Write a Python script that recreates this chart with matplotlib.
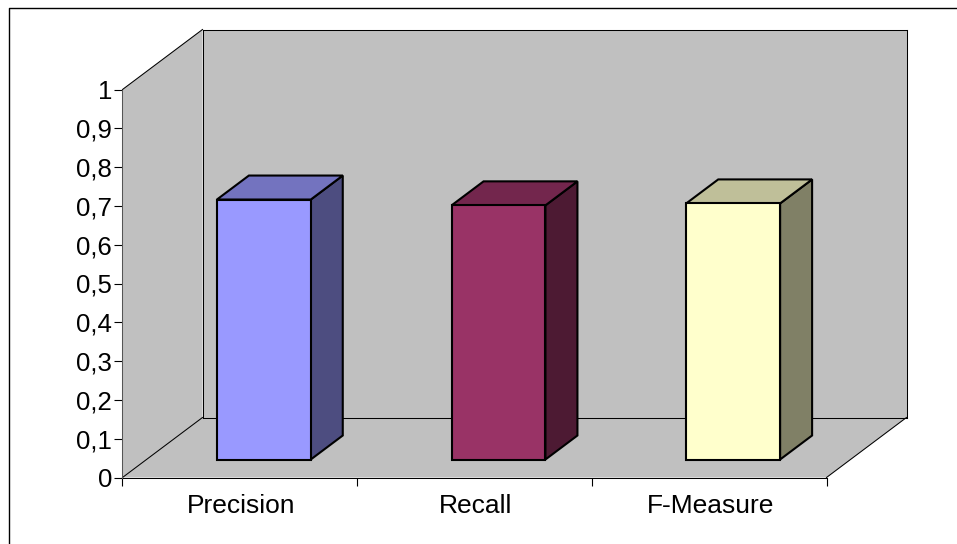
import matplotlib
matplotlib.use("Agg")
import matplotlib.pyplot as plt
from matplotlib.lines import Line2D
from matplotlib.patches import Polygon

categories = ["Precision", "Recall", "F-Measure"]
values = [0.67, 0.655, 0.66]
y_ticks = [0, 0.1, 0.2, 0.3, 0.4, 0.5, 0.6, 0.7, 0.8, 0.9, 1]
y_labels = ["0", "0,1", "0,2", "0,3", "0,4", "0,5", "0,6", "0,7", "0,8", "0,9", "1"]
front_colors = ["#9999FF", "#993366", "#FFFFCC"]
side_colors = ["#4D4D80", "#4D1A33", "#808066"]
top_colors = ["#7373BF", "#73264D", "#BFBF99"]

W, H = 957, 544
plt.rcParams["font.family"] = ["Liberation Sans", "DejaVu Sans"]
fig = plt.figure(figsize=(W / 100, H / 100), dpi=100, facecolor="white")

# outer chart frame: only the left and top edges are visible in the crop
fig.add_artist(Line2D([8.5 / W, 8.5 / W, 1], [0, 1 - 7.5 / H, 1 - 7.5 / H],
                      transform=fig.transFigure, color="black", linewidth=1.0))

L, R, T, B = 122.5, 826.5, 89.5, 477.5
ax = fig.add_axes([L / W, 1 - B / H, (R - L) / W, (B - T) / H])
ax.set_xlim(0, 3)
ax.set_ylim(0, 1)
ax.patch.set_visible(False)
for s in ax.spines.values():
    s.set_visible(False)

ux = (R - L) / 3      # pixels per x unit
uy = (B - T)          # pixels per y unit


def shift(x, y, dx_px, dy_px):
    """Move a data point back into the 3-D depth by a pixel offset."""
    return (x + dx_px / ux, y + dy_px / uy)


def poly(points, fc, ec="black", lw=0.75, z=1):
    ax.add_patch(Polygon(points, closed=True, facecolor=fc, edgecolor=ec, linewidth=lw,
                         joinstyle="miter", clip_on=False, zorder=z))


def edge(p, q, color="black", lw=0.75):
    ax.add_line(Line2D([p[0], q[0]], [p[1], q[1]], color=color, linewidth=lw,
                       clip_on=False, zorder=2))


DX, DY = 80, 60
gray = "#C0C0C0"
a, b = (0, 0), (3, 0)
c, d = shift(0, 0, DX, DY), shift(3, 0, DX, DY)
e, f_ = shift(0, 1, DX, DY), shift(3, 1, DX, DY)
g = (0, 1)
# walls and floor, fills first, each edge drawn once
poly([c, d, f_, e], gray, ec="none", lw=0)
poly([a, c, e, g], gray, ec="none", lw=0)
poly([a, b, d, c], gray, ec="none", lw=0)
edge(a, b)
edge(b, d)
edge(a, c)
edge(c, d)
edge(c, e)
edge(d, f_)
edge(e, f_)
edge(g, e)
edge(a, g, color="#555555")

# bars
width = 0.4
d0 = (24, 18)
d1 = (56, 42)
blw = 1.5
for i, (v, f, s, t) in enumerate(zip(values, front_colors, side_colors, top_colors)):
    x0, x1 = i + 0.5 - width / 2, i + 0.5 + width / 2
    poly([shift(x1, 0, *d0), shift(x1, 0, *d1), shift(x1, v, *d1), shift(x1, v, *d0)], s, lw=blw, z=3)
    poly([shift(x0, v, *d0), shift(x1, v, *d0), shift(x1, v, *d1), shift(x0, v, *d1)], t, lw=blw, z=3)
    poly([shift(x0, 0, *d0), shift(x1, 0, *d0), shift(x1, v, *d0), shift(x0, v, *d0)], f, lw=blw, z=4)

# axes ticks
ax.set_yticks(y_ticks, y_labels, fontsize=18.5, color="black")
ax.tick_params(axis="y", length=6, width=0.8, pad=1.5, direction="out")
ax.set_xticks([0, 1, 2, 3])
ax.set_xticklabels([])
ax.tick_params(axis="x", length=6, width=0.8, direction="out")
for i, c_name in enumerate(categories):
    ax.annotate(c_name, (i + 0.5, 0), xytext=(1, -12), textcoords="offset points",
                ha="center", va="top", fontsize=19)

fig.savefig("out.png", dpi=100, facecolor="white")
